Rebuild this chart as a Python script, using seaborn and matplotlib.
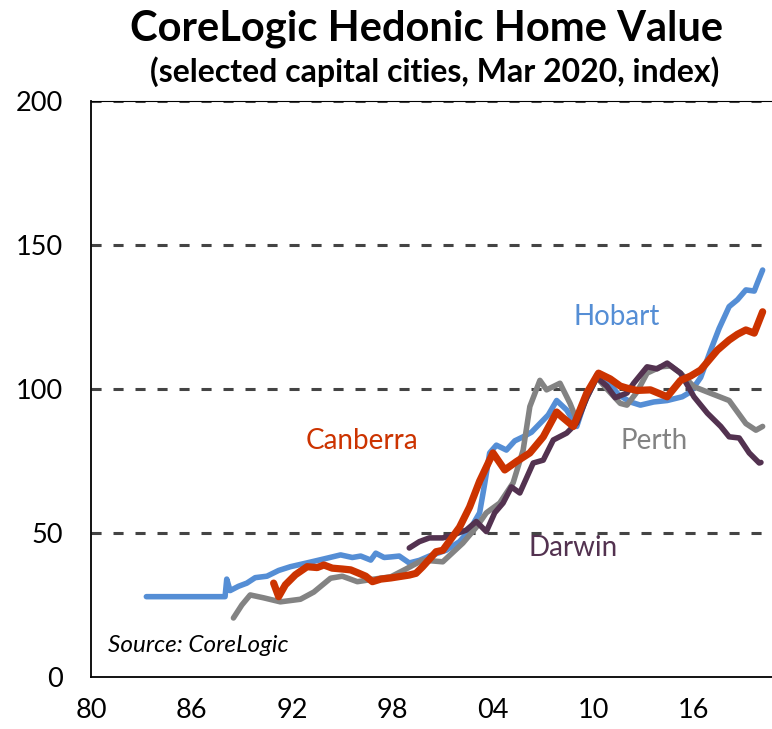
import matplotlib
matplotlib.use("Agg")
import matplotlib.pyplot as plt
import pandas as pd
import seaborn as sns

sns.set_style("white")
plt.rcParams['font.family'] = ['Lato', 'DejaVu Sans']
plt.rcParams['text.color'] = 'black'

# values (year, index)
hobart_x = [1983.3, 1985.0, 1987.0, 1988.0, 1988.1, 1988.3, 1988.8, 1989.3, 1989.8, 1990.5,
            1991.2, 1991.9, 1992.8, 1993.9, 1994.9, 1995.6, 1996.1, 1996.7, 1997.0, 1997.5,
            1997.9, 1998.4, 1999.0, 1999.6, 2000.2, 2001.2, 2002.0, 2002.6, 2003.2, 2003.5,
            2003.8, 2004.2, 2004.8, 2005.3, 2005.8, 2006.3, 2006.8, 2007.3, 2007.8, 2008.4,
            2009.0, 2009.5, 2010.2, 2010.8, 2011.5, 2012.2, 2012.8, 2013.6, 2014.4, 2015.3,
            2015.8, 2016.4, 2017.0, 2017.5, 2018.1, 2018.6, 2019.1, 2019.6, 2019.8, 2020.1]
hobart_y = [27.9, 27.9, 27.9, 27.9, 34.0, 30.0, 31.5, 32.6, 34.5, 35.0,
            37.0, 38.3, 39.5, 41.0, 42.4, 41.5, 42.0, 40.6, 43.0, 41.5,
            41.7, 42.0, 39.6, 40.5, 42.0, 44.0, 47.0, 51.0, 57.0, 67.0,
            77.8, 80.5, 78.8, 82.0, 83.4, 85.0, 88.0, 91.0, 96.0, 92.7,
            87.0, 96.0, 105.0, 103.0, 98.0, 95.5, 94.4, 95.5, 96.0, 97.3,
            99.0, 104.0, 113.5, 121.0, 128.6, 131.0, 134.4, 134.0, 137.0, 141.3]

canberra_x = [1990.9, 1991.2, 1991.6, 1992.2, 1992.9, 1993.5, 1993.9, 1994.4, 1995.0, 1995.5,
              1996.0, 1996.4, 1996.8, 1997.3, 1997.9, 1999.0, 1999.4, 1999.8, 2000.6, 2001.0,
              2002.0, 2002.6, 2003.2, 2004.0, 2004.7, 2005.4, 2006.2, 2007.0, 2007.8, 2008.1,
              2008.8, 2009.6, 2010.3, 2011.0, 2011.6, 2012.0, 2012.6, 2013.4, 2014.4, 2015.2,
              2015.8, 2016.4, 2017.4, 2018.1, 2018.6, 2019.1, 2019.6, 2020.1]
canberra_y = [32.6, 27.9, 32.0, 35.5, 38.3, 38.0, 38.9, 37.8, 37.5, 37.2,
              36.0, 35.0, 33.1, 34.0, 34.4, 35.4, 36.0, 38.3, 43.5, 44.0,
              52.0, 59.0, 68.0, 77.8, 71.9, 74.8, 77.8, 83.4, 92.0, 90.4,
              87.0, 98.6, 105.5, 103.5, 101.0, 100.3, 99.5, 99.7, 97.3, 103.0,
              104.5, 106.6, 113.5, 117.0, 119.0, 120.5, 119.4, 126.8]

perth_x = [1988.5, 1989.0, 1989.5, 1990.3, 1991.3, 1992.5, 1993.3, 1994.3, 1995.0, 1995.9,
           1996.9, 1997.9, 1998.8, 1999.8, 2001.0, 2002.2, 2003.0, 2003.6, 2004.4, 2005.2,
           2005.8, 2006.2, 2006.8, 2007.2, 2008.0, 2008.6, 2009.0, 2009.6, 2010.2, 2010.8,
           2011.6, 2012.0, 2012.6, 2013.2, 2014.0, 2014.6, 2015.2, 2016.0, 2017.0, 2018.1,
           2018.6, 2019.1, 2019.7, 2020.1]
perth_y = [20.5, 25.0, 28.5, 27.5, 26.1, 27.0, 29.5, 34.3, 35.0, 33.1,
           34.0, 34.8, 37.5, 40.6, 40.0, 46.5, 52.0, 57.0, 60.4, 67.4,
           78.8, 93.9, 103.0, 99.7, 102.0, 95.0, 89.2, 97.0, 104.0, 100.0,
           95.0, 94.4, 99.0, 105.5, 107.7, 108.0, 105.5, 100.8, 98.5, 96.0,
           92.0, 88.0, 85.7, 87.0]

darwin_x = [1999.0, 1999.6, 2000.2, 2001.0, 2001.6, 2002.4, 2003.0, 2003.6, 2004.1, 2004.6,
            2005.1, 2005.6, 2006.4, 2007.0, 2007.6, 2008.4, 2009.0, 2009.6, 2010.2, 2010.8,
            2011.3, 2012.0, 2012.4, 2013.2, 2013.8, 2014.4, 2015.2, 2016.0, 2016.8, 2017.6,
            2018.1, 2018.7, 2019.3, 2019.9, 2020.0]
darwin_y = [44.8, 47.0, 48.3, 48.3, 49.3, 51.0, 54.0, 50.5, 57.0, 60.4,
            66.0, 63.9, 74.3, 75.3, 82.3, 84.7, 88.2, 97.0, 104.0, 101.0,
            97.0, 98.6, 102.0, 107.7, 107.0, 109.0, 105.5, 97.3, 91.6, 87.0,
            83.4, 83.0, 77.8, 74.3, 74.5]

yticks = [0, 50, 100, 150, 200]
xticks = [1980, 1986, 1992, 1998, 2004, 2010, 2016]
xticklabels = ['80', '86', '92', '98', '04', '10', '16']

blue = '#558ed5'
red = '#cc3300'
grey = '#838383'
purple = '#533250'

fig = plt.figure(figsize=(7.72, 7.29), dpi=100)
ax = fig.add_axes([0.118, 0.0713, 0.882, 0.7902])

for yv in [50, 100, 150, 200]:
    ax.axhline(yv, color='#444444', lw=2.2, ls=(0, (3.3, 3.9)), zorder=1)

series = [(hobart_x, hobart_y, blue, 4.0),
          (perth_x, perth_y, grey, 4.0),
          (darwin_x, darwin_y, purple, 4.0),
          (canberra_x, canberra_y, red, 5.2)]
for xs, ys, c, lw in series:
    df = pd.DataFrame({'year': xs, 'value': ys})
    sns.lineplot(data=df, x='year', y='value', color=c, lw=lw, ax=ax, zorder=3,
                 solid_capstyle='round', solid_joinstyle='round')

ax.set_xlim(1980, 2020.66)
ax.set_ylim(0, 200)
ax.set_yticks(yticks)
ax.set_xticks(xticks)
ax.set_xticklabels(xticklabels)
ax.set_xlabel('')
ax.set_ylabel('')
ax.tick_params(axis='both', direction='in', length=7, width=1.2, color='black',
               labelsize=19.5, labelcolor='black')
ax.tick_params(axis='x', pad=15)
ax.tick_params(axis='y', pad=20)
for s in ['left', 'bottom']:
    ax.spines[s].set_color('black')
    ax.spines[s].set_linewidth(1.3)
ax.spines['top'].set_color('black')
ax.spines['top'].set_linewidth(0.8)
ax.spines['right'].set_visible(False)

ax.text(2011.4, 125, 'Hobart', color=blue, fontsize=20, ha='center', va='center')
ax.text(1996.2, 82, 'Canberra', color=red, fontsize=20, ha='center', va='center')
ax.text(2013.6, 82, 'Perth', color=grey, fontsize=20, ha='center', va='center')
ax.text(2008.8, 44.8, 'Darwin', color=purple, fontsize=20, ha='center', va='center')
ax.text(1981.0, 11, 'Source: CoreLogic', fontsize=17.5, style='italic', color='black',
        ha='left', va='center')

fig.text(0.553, 0.961, 'CoreLogic Hedonic Home Value', fontsize=30, fontweight='bold',
         color='black', ha='center', va='center')
fig.text(0.563, 0.902, '(selected capital cities, Mar 2020, index)', fontsize=23,
         fontweight='bold', color='black', ha='center', va='center')

fig.savefig('out.png', dpi=100)
